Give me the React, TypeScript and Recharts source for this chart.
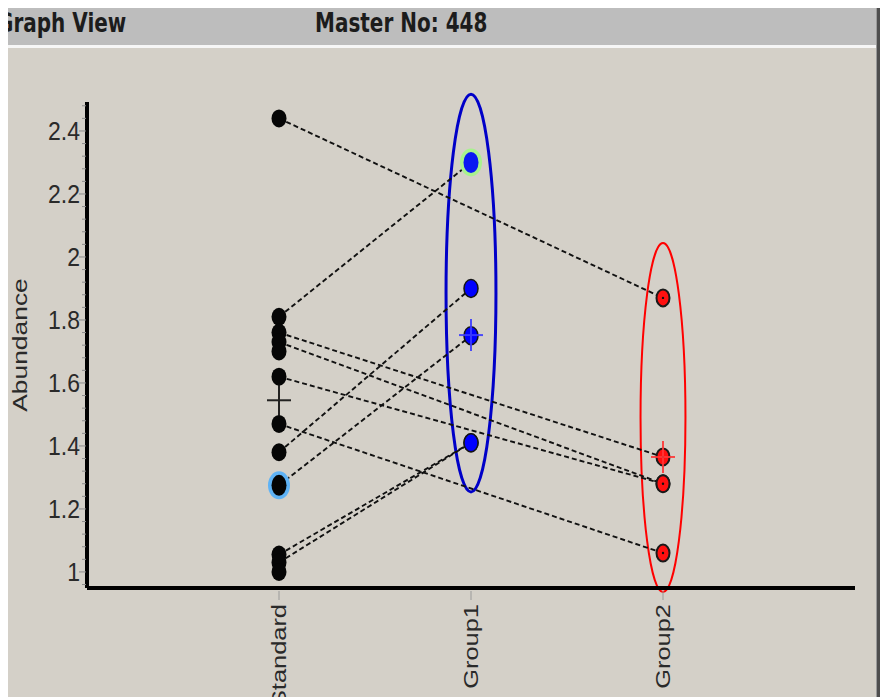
import React from "react";
import { ScatterChart, Scatter, XAxis, YAxis, ReferenceArea } from "recharts";

const groups = ["Standard", "Group1", "Group2"];

const standardValues = [2.44, 1.81, 1.76, 1.73, 1.7, 1.62, 1.47, 1.38, 1.275, 1.055, 1.03, 1.0];
const group1Values = [2.3, 1.9, 1.75, 1.41, 1.41];
const group2Values = [1.87, 1.365, 1.28, 1.28, 1.06];
const groupMeans = [1.545, 1.752, 1.365];

// [standard index, target group index, index within target group]
const pairs: [number, number, number][] = [
  [0, 2, 0],
  [1, 1, 0],
  [2, 2, 1],
  [3, 2, 2],
  [5, 2, 3],
  [6, 2, 4],
  [7, 1, 1],
  [8, 1, 2],
  [9, 1, 3],
  [10, 1, 4],
];

// selected spots, drawn with a coloured halo
const highlighted = [
  { group: 0, value: 1.275, halo: "#5fb3f6", core: "#050505" },
  { group: 1, value: 2.3, halo: "#a8f28e", core: "#0a18f2" },
];

// group outlines in data units
const circledGroups = [
  { group: 1, low: 1.254, high: 2.517, half: 0.13, color: "#0000c8", width: 3 },
  { group: 2, low: 0.936, high: 2.044, half: 0.117, color: "#ff0000", width: 2 },
];

const yTickLabels = [1, 1.2, 1.4, 1.6, 1.8, 2, 2.2, 2.4];
const yMinorTicks = Array.from({ length: 39 }, (_, i) => +(0.96 + i * 0.04).toFixed(2));

const valuesByGroup = [standardValues, group1Values, group2Values];
const crossColors = ["#101010", "#3c3cff", "#ff3636"];

const pointsFor = (g: number) => valuesByGroup[g].map((y) => ({ x: g + 1, y }));
const links = pairs.map(([s, g, i]) => [
  { x: 1, y: standardValues[s] },
  { x: g + 1, y: valuesByGroup[g][i] },
]);
const means = groupMeans.map((y, i) => ({ x: i + 1, y, color: crossColors[i] }));
const halos = highlighted.map((h) => ({ x: h.group + 1, y: h.value, halo: h.halo, core: h.core }));

const FONT = "'Liberation Sans', Arial, Helvetica, sans-serif";

const YTick = ({ x, y, payload }: any) => {
  const v = payload.value;
  const major = yTickLabels.some((t) => Math.abs(t - v) < 1e-6);
  return (
    <g>
      <line x1={x - (major ? 8 : 5)} x2={x - 1} y1={y} y2={y} stroke="#8c8c8c" strokeWidth={1} />
      {major && (
        <text
          transform={`translate(${x - 7},${y}) scale(1,1.15)`}
          textAnchor="end"
          dominantBaseline="central"
          fontSize={23}
          fill="#2a2a2a"
          fontFamily={FONT}
        >
          {v}
        </text>
      )}
    </g>
  );
};

const XTick = ({ x, y, payload }: any) => (
  <g>
    <line x1={x} x2={x} y1={y + 3} y2={y + 12} stroke="#9a9a9a" strokeWidth={1} />
    <text
      transform={`translate(${x},${y + 16}) rotate(-90) scale(1.27,1)`}
      textAnchor="end"
      dominantBaseline="central"
      fontSize={20}
      fill="#2a2a2a"
      fontFamily={FONT}
    >
      {groups[payload.value - 1]}
    </text>
  </g>
);

const YTitle = ({ viewBox }: any) => (
  <text
    transform={`translate(${viewBox.x + 12},${viewBox.y + viewBox.height / 2}) rotate(-90) scale(1.32,1)`}
    textAnchor="middle"
    dominantBaseline="central"
    fontSize={20}
    fill="#2a2a2a"
    fontFamily={FONT}
  >
    Abundance
  </text>
);

const blackDot = (p: any) => <ellipse cx={p.cx} cy={p.cy} rx={7.5} ry={9} fill="#060606" />;

const blueDot = (p: any) => (
  <ellipse cx={p.cx} cy={p.cy} rx={7} ry={9} fill="#0000ff" stroke="#151515" strokeWidth={1.5} />
);

const redDot = (p: any) => (
  <g>
    <ellipse cx={p.cx} cy={p.cy} rx={6.5} ry={8.5} fill="#ff1010" stroke="#1a1a1a" strokeWidth={2} />
    <circle cx={p.cx} cy={p.cy} r={1.2} fill="#111" />
  </g>
);

const haloDot = (p: any) => (
  <g>
    <ellipse cx={p.cx} cy={p.cy} rx={11} ry={14} fill={p.payload.halo} />
    <ellipse cx={p.cx} cy={p.cy} rx={7.5} ry={10.5} fill={p.payload.core} />
  </g>
);

const meanCross = (p: any) => (
  <g stroke={p.payload.color} strokeWidth={2} opacity={0.9}>
    <line x1={p.cx - 12} x2={p.cx + 12} y1={p.cy} y2={p.cy} />
    <line x1={p.cx} x2={p.cx} y1={p.cy - 16} y2={p.cy + 16} />
  </g>
);

const noShape = () => <g />;

export default function App() {
  return (
    <div
      style={{
        position: "fixed",
        left: 8,
        top: 8,
        width: 872,
        height: 689,
        overflow: "hidden",
        background: "#d4d0c8",
      }}
    >
      {/* title bar */}
      <div style={{ position: "absolute", left: 0, top: 0, width: 868, height: 37, background: "#bdbdbd" }} />
      <div style={{ position: "absolute", left: 0, top: 37, width: 868, height: 3, background: "#f6f6f6" }} />
      <div style={{ position: "absolute", right: 0, top: 0, width: 3, height: 689, background: "#4e4e4e" }} />
      <div style={{ position: "absolute", right: 3, top: 0, width: 1, height: 689, background: "#9a9a9a" }} />
      {[
        { text: "Graph View", left: -11 },
        { text: "Master No: 448", left: 307 },
      ].map((t) => (
        <div
          key={t.text}
          style={{
            position: "absolute",
            left: t.left,
            top: 2,
            fontFamily: "'DejaVu Sans', Verdana, sans-serif",
            fontWeight: "bold",
            fontSize: 20,
            lineHeight: "20px",
            color: "#1c1c1c",
            whiteSpace: "nowrap",
            transform: "scaleY(1.3)",
            transformOrigin: "top left",
          }}
        >
          {t.text}
        </div>
      ))}

      <div style={{ position: "absolute", left: 0, top: 0 }}>
        <ScatterChart width={868} height={689} margin={{ top: 94, right: 21, bottom: 0, left: 0 }}>
          <XAxis
            type="number"
            dataKey="x"
            domain={[0, 4]}
            ticks={[1, 2, 3]}
            interval={0}
            height={109}
            tickSize={0}
            tickMargin={0}
            tickLine={false}
            axisLine={{ stroke: "#000", strokeWidth: 4 }}
            tick={<XTick />}
          />
          <YAxis
            type="number"
            dataKey="y"
            domain={[0.949, 2.492]}
            allowDataOverflow
            ticks={yMinorTicks}
            interval={0}
            width={79}
            tickSize={0}
            tickMargin={0}
            tickLine={false}
            axisLine={{ stroke: "#000", strokeWidth: 4 }}
            tick={<YTick />}
            label={{ value: "Abundance", content: YTitle }}
          />

          {links.map((d, i) => (
            <Scatter
              key={`link-${i}`}
              data={d}
              line={{ stroke: "#111", strokeWidth: 1.9, strokeDasharray: "5 3" }}
              shape={noShape}
              isAnimationActive={false}
            />
          ))}

          <Scatter data={pointsFor(0)} shape={blackDot} isAnimationActive={false} />
          <Scatter data={pointsFor(1)} shape={blueDot} isAnimationActive={false} />
          <Scatter data={pointsFor(2)} shape={redDot} isAnimationActive={false} />
          <Scatter data={halos} shape={haloDot} isAnimationActive={false} />
          <Scatter data={means} shape={meanCross} isAnimationActive={false} />

          {circledGroups.map((c) => (
            <ReferenceArea
              key={`ring-${c.group}`}
              x1={c.group + 1 - c.half}
              x2={c.group + 1 + c.half}
              y1={c.low}
              y2={c.high}
              ifOverflow="visible"
              shape={(p: any) => (
                <ellipse
                  cx={p.x + p.width / 2}
                  cy={p.y + p.height / 2}
                  rx={p.width / 2}
                  ry={p.height / 2}
                  fill="none"
                  stroke={c.color}
                  strokeWidth={c.width}
                />
              )}
            />
          ))}
        </ScatterChart>
      </div>
    </div>
  );
}
